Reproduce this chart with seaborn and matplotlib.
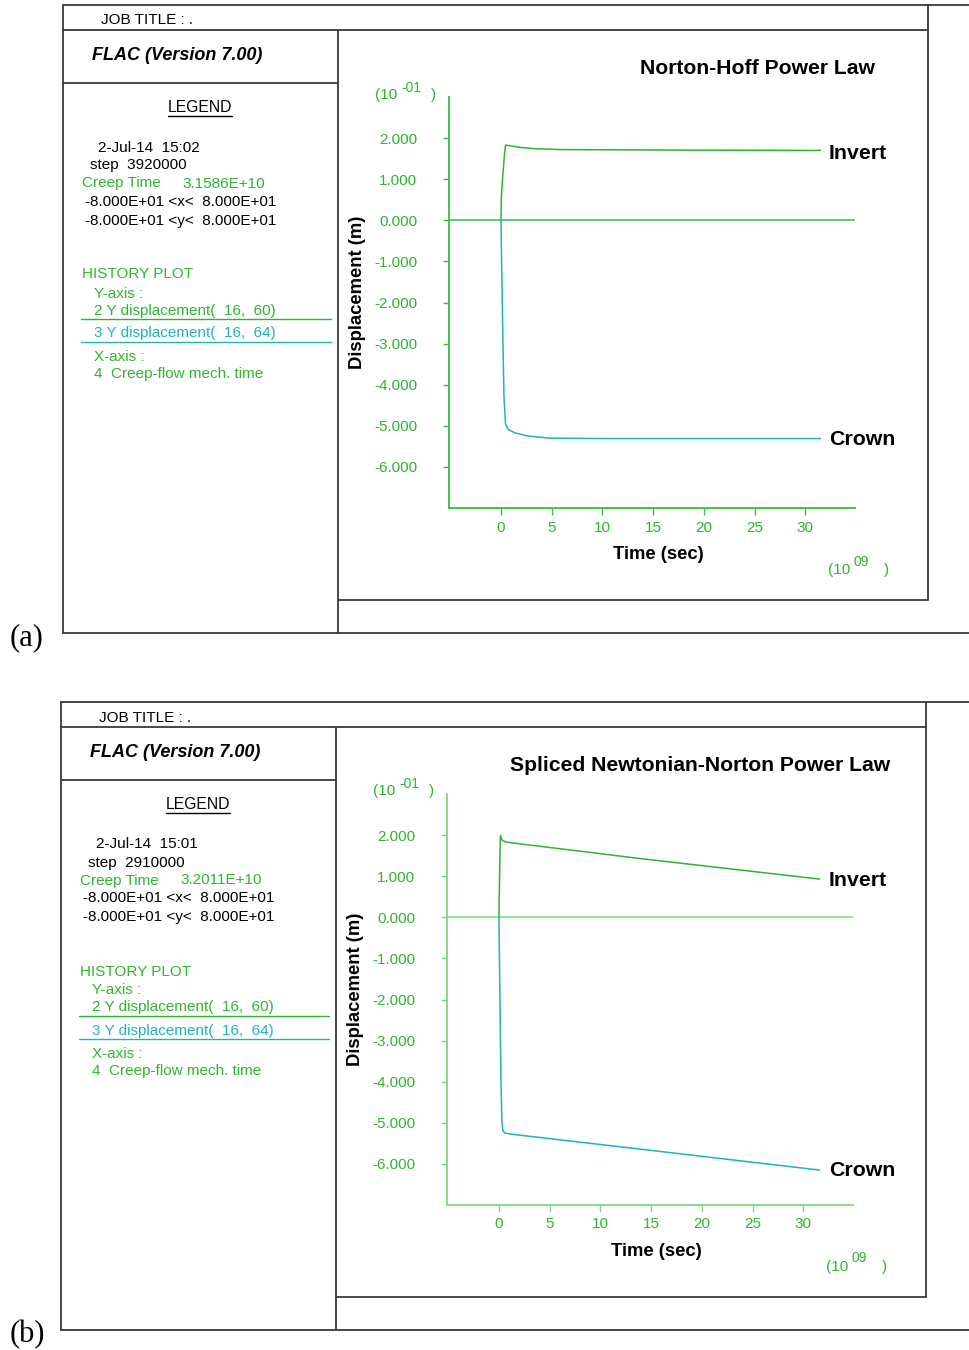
import numpy as np
import pandas as pd
import matplotlib
matplotlib.use("Agg")
import matplotlib.pyplot as plt
from matplotlib.lines import Line2D
import seaborn as sns

# ---------------- data (time in 1e9 s, displacement in 1e-1 m) ----------------
a_invert_t = [0, 0.05, 0.15, 0.25, 0.35, 0.45, 1.0, 2.0, 3.5, 6.0, 16, 31.5]
a_invert_v = [0, 0.6, 1.0, 1.3, 1.6, 1.83, 1.81, 1.77, 1.74, 1.72, 1.71, 1.70]
a_crown_t = [0, 0.1, 0.2, 0.3, 0.45, 0.7, 1.0, 1.5, 2.5, 3.5, 4.8, 10, 31.5]
a_crown_v = [0, -1.5, -3.0, -4.3, -4.95, -5.08, -5.13, -5.18, -5.24, -5.27, -5.30, -5.31, -5.31]

b_invert_t = [0, 0.05, 0.1, 0.15, 0.3, 0.6, 1.0, 13.9, 31.6]
b_invert_v = [0, 0.8, 1.5, 1.99, 1.88, 1.84, 1.82, 1.43, 0.93]
b_crown_t = [0, 0.1, 0.2, 0.3, 0.4, 0.6, 1.0, 13.9, 31.6]
b_crown_v = [0, -2.0, -4.0, -5.0, -5.2, -5.25, -5.27, -5.64, -6.15]

y_ticks = [-6, -5, -4, -3, -2, -1, 0, 1, 2]
x_ticks = [0, 5, 10, 15, 20, 25, 30]

titles = ["Norton-Hoff Power Law", "Spliced Newtonian-Norton Power Law"]
title_cx = [757, 702]
dates = ["2-Jul-14  15:02", "2-Jul-14  15:01"]
steps = ["step  3920000", "step  2910000"]
creep = ["3.1586E+10", "3.2011E+10"]
panel_labels = ["(a)", "(b)"]

# ---------------- style ----------------
sns.set_style("white")
plt.rcParams["font.family"] = ["Liberation Sans", "DejaVu Sans"]

W, H = 969, 1350
fig = plt.figure(figsize=(W / 100, H / 100), dpi=100)

GREEN = "#2fb52f"
CYAN = "#1fb3bd"
FRAME = "#3a3a3a"
FS = 11


def fx(x):
    return x / W


def fy(y):
    return 1 - y / H


def hline(y, x0, x1, color=FRAME, lw=1.3):
    fig.add_artist(Line2D([fx(x0), fx(x1)], [fy(y), fy(y)], color=color, lw=lw,
                          transform=fig.transFigure))


def vline(x, y0, y1, color=FRAME, lw=1.3):
    fig.add_artist(Line2D([fx(x), fx(x)], [fy(y0), fy(y1)], color=color, lw=lw,
                          transform=fig.transFigure))


def txt(x, y, s, size=FS, color="black", ha="left", va="center", **kw):
    fig.text(fx(x), fy(y + 1.5), s, fontsize=size, color=color, ha=ha, va=va, **kw)


def panel(i, dx, dy, inv_t, inv_v, cr_t, cr_v, axis_green):
    # frames
    L, R = 63 + dx, 928 + dx
    hline(5 + dy, L, 969)
    vline(L, 5 + dy, 633 + dy)
    hline(30 + dy, L, R)
    vline(R, 5 + dy, 600 + dy)
    vline(338 + dx, 30 + dy, 633 + dy)
    hline(83 + dy, L, 338 + dx)
    hline(600 + dy, 338 + dx, R)
    hline(633 + dy, L, 969)

    # left legend text
    txt(101 + dx, 19 + dy, "JOB TITLE : .", FS)
    txt(92 + dx, 54 + dy, "FLAC (Version 7.00)", 13, fontweight="bold", fontstyle="italic")
    txt(200 + dx, 106 + dy, "LEGEND", 11.3, ha="center")
    hline(116 + dy, 168 + dx, 232 + dx, color="black", lw=1.0)
    txt(98 + dx, 146 + dy, dates[i], FS)
    txt(90 + dx, 164 + dy, steps[i], FS)
    txt(82 + dx, 182 + dy, "Creep Time", FS, color=GREEN)
    txt(182 + dx, 182 + dy, creep[i], FS, color=GREEN)
    txt(85 + dx, 200 + dy, "-8.000E+01 <x<  8.000E+01", FS)
    txt(85 + dx, 219 + dy, "-8.000E+01 <y<  8.000E+01", FS)
    txt(82 + dx, 273 + dy, "HISTORY PLOT", FS, color=GREEN)
    txt(94 + dx, 292 + dy, "Y-axis :", FS, color=GREEN)
    txt(94 + dx, 309 + dy, "2 Y displacement(  16,  60)", FS, color=GREEN)
    hline(319 + dy, 81 + dx, 331 + dx, color=GREEN, lw=1.0)
    txt(94 + dx, 332 + dy, "3 Y displacement(  16,  64)", FS, color=CYAN)
    hline(342 + dy, 81 + dx, 331 + dx, color=CYAN, lw=1.0)
    txt(94 + dx, 355 + dy, "X-axis :", FS, color=GREEN)
    txt(94 + dx, 373 + dy, "4  Creep-flow mech. time", FS, color=GREEN)

    # axes
    ax_l, ax_r, ax_t, ax_b = 449 + dx, 855 + dx, 97 + dy, 508 + dy
    ax = fig.add_axes([fx(ax_l), fy(ax_b), fx(ax_r - ax_l), (ax_b - ax_t) / H])
    ax.set_facecolor("none")
    df_inv = pd.DataFrame({"t": inv_t, "v": inv_v})
    df_cr = pd.DataFrame({"t": cr_t, "v": cr_v})
    ax.axhline(0, color=axis_green, lw=1.1, zorder=1)
    sns.lineplot(data=df_inv, x="t", y="v", ax=ax, color=GREEN, lw=1.1,
                 estimator=None, sort=False, zorder=3)
    sns.lineplot(data=df_cr, x="t", y="v", ax=ax, color=CYAN, lw=1.1,
                 estimator=None, sort=False, zorder=3)
    ax.set_xlim(-5.12, 34.9)
    ax.set_ylim(-7.0, 3.0)
    ax.set_xticks(x_ticks)
    ax.set_yticks(y_ticks)
    ax.set_yticklabels([f"{v:.3f}" for v in y_ticks])
    ax.set_xticklabels([str(v) for v in x_ticks])
    ax.set_xlabel("")
    ax.set_ylabel("")
    for s in ["top", "right"]:
        ax.spines[s].set_visible(False)
    for s in ["left", "bottom"]:
        ax.spines[s].set_color(axis_green)
        ax.spines[s].set_linewidth(1.3)
    ax.tick_params(axis="y", direction="out", length=4, width=1, color=axis_green,
                   labelcolor=GREEN, labelsize=11, pad=19, left=True)
    ax.tick_params(axis="x", direction="out", length=5, width=1, color=axis_green,
                   labelcolor=GREEN, labelsize=11, pad=4, bottom=True)
    ax.grid(False)

    # labels in the plot area
    txt(title_cx[i] + dx, 67 + dy, titles[i], 15.2, ha="center", fontweight="bold")
    txt(358 + dx, 291 + dy, "Displacement (m)", 13.3, ha="center", rotation=90,
        fontweight="bold")
    txt(658 + dx, 553 + dy, "Time (sec)", 13.3, ha="center", fontweight="bold")
    txt(375 + dx, 93 + dy, "(10", FS, color=GREEN)
    txt(401 + dx, 86 + dy, "-01", 10, color=GREEN)
    txt(431 + dx, 93 + dy, ")", FS, color=GREEN)
    txt(828 + dx, 568 + dy, "(10", FS, color=GREEN)
    txt(854 + dx, 560 + dy, "09", 10, color=GREEN)
    txt(884 + dx, 568 + dy, ")", FS, color=GREEN)

    txt(27, 636 + dy, panel_labels[i], 22, ha="center",
        family=["Liberation Serif", "DejaVu Serif"])
    return ax


panel(0, 0, 0, a_invert_t, a_invert_v, a_crown_t, a_crown_v, "#3cbb3c")
txt(829, 152, "Invert", 15.3, fontweight="bold")
txt(829, 438, "Crown", 15.3, fontweight="bold")

panel(1, -2, 697, b_invert_t, b_invert_v, b_crown_t, b_crown_v, "#7fd87f")
txt(829, 879, "Invert", 15.3, fontweight="bold")
txt(829, 1169, "Crown", 15.3, fontweight="bold")

fig.savefig("out.png", dpi=100)
